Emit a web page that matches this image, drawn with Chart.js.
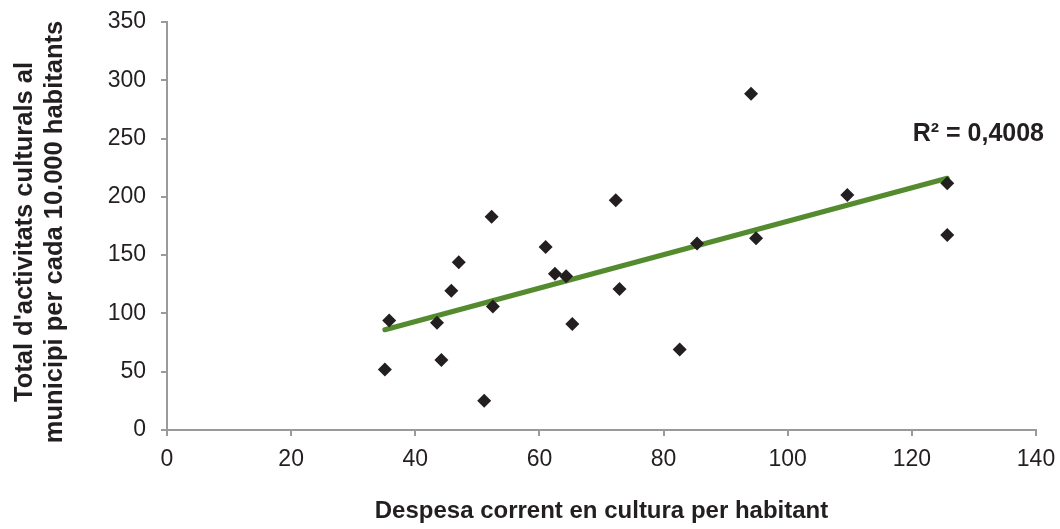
<!DOCTYPE html>
<html><head><meta charset="utf-8">
<script src="https://cdn.jsdelivr.net/npm/chart.js@4/dist/chart.umd.min.js"></script>
<style>html,body{margin:0;padding:0;background:#fff}canvas{display:block}</style>
</head><body>
<canvas id="c" width="1060" height="529"></canvas>
<script>
const spending = [35.1, 35.8, 43.5, 44.2, 45.8, 47.0, 51.1, 52.3, 52.5, 61.0, 62.5, 64.3, 65.3, 72.3, 72.9, 82.6, 85.4, 94.1, 94.9, 109.6, 125.7, 125.7];
const activities = [52, 94, 92, 60, 119.5, 144, 25, 183, 106, 157, 134, 132, 91, 197, 121, 69, 160, 288.5, 164.5, 201.6, 211.6, 167.3];
const xTicks = [0, 20, 40, 60, 80, 100, 120, 140];
const yTicks = [0, 50, 100, 150, 200, 250, 300, 350];
const xTitle = 'Despesa corrent en cultura per habitant';
const yTitle = ["Total d'activitats culturals al", 'municipi per cada 10.000 habitants'];
const r2Label = 'R² = 0,4008';

const points = spending.map((x, i) => ({x, y: activities[i]}));
// least squares trendline from the data
const n = spending.length;
const mx = spending.reduce((a, b) => a + b, 0) / n;
const my = activities.reduce((a, b) => a + b, 0) / n;
let sxy = 0, sxx = 0;
for (let i = 0; i < n; i++) { sxy += (spending[i] - mx) * (activities[i] - my); sxx += (spending[i] - mx) ** 2; }
const slope = sxy / sxx, intercept = my - slope * mx;
const xMin = Math.min(...spending), xMax = Math.max(...spending);
const trend = [{x: xMin, y: intercept + slope * xMin}, {x: xMax, y: intercept + slope * xMax}];

const FONT = "'Liberation Sans', Arial, sans-serif";
const axisColor = '#9a9a9a';
const textColor = '#231f20';

const textPlugin = {
  id: 'texts',
  afterDraw(chart) {
    const {ctx, chartArea} = chart;
    ctx.save();
    ctx.fillStyle = textColor;
    // R² label
    ctx.font = 'bold 25px ' + FONT;
    ctx.textBaseline = 'alphabetic';
    ctx.textAlign = 'right';
    ctx.fillText(r2Label, chartArea.right + 8, 141);
    // Y axis title (two rotated lines)
    ctx.font = 'bold 25.5px ' + FONT;
    ctx.textAlign = 'center';
    yTitle.forEach((line, i) => {
      ctx.save();
      ctx.translate(32 + 30 * i, 232);
      ctx.rotate(-Math.PI / 2);
      ctx.fillText(line, 0, 0);
      ctx.restore();
    });
    ctx.restore();
  }
};

new Chart(document.getElementById('c'), {
  type: 'scatter',
  data: {
    datasets: [
      {
        type: 'line', data: trend, borderColor: '#558b2f', borderWidth: 5,
        pointRadius: 0, fill: false, order: 2, borderCapStyle: 'round'
      },
      {
        data: points, pointStyle: 'rectRot', pointRadius: 7, pointHoverRadius: 7,
        backgroundColor: textColor, borderColor: textColor, borderWidth: 0, order: 1
      }
    ]
  },
  options: {
    responsive: false, animation: false,
    layout: {padding: {left: 0, right: 24, top: 22, bottom: 0}},
    plugins: {legend: {display: false}, tooltip: {enabled: false}},
    scales: {
      x: {
        type: 'linear', min: 0, max: 140,
        afterBuildTicks: s => { s.ticks = xTicks.map(v => ({value: v})); },
        afterFit: s => { s.height = 99; s.paddingLeft = 0; s.paddingRight = 0; },
        border: {color: axisColor, width: 2},
        grid: {display: true, drawOnChartArea: false, drawTicks: true, tickLength: 6, color: axisColor, lineWidth: 2},
        ticks: {color: textColor, font: {family: FONT, size: 23}, padding: 10, maxRotation: 0},
        title: {display: true, text: xTitle, color: textColor, font: {family: FONT, size: 24, weight: 'bold'}, padding: {top: 0, bottom: 3}}
      },
      y: {
        type: 'linear', min: 0, max: 350,
        afterBuildTicks: s => { s.ticks = yTicks.map(v => ({value: v})); },
        afterFit: s => { s.width = 167; s.paddingTop = 0; s.paddingBottom = 0; },
        border: {color: axisColor, width: 2},
        grid: {display: true, drawOnChartArea: false, drawTicks: true, tickLength: 6, color: axisColor, lineWidth: 2},
        ticks: {color: textColor, font: {family: FONT, size: 23}, padding: 15},
        title: {display: false}
      }
    }
  },
  plugins: [textPlugin]
});
</script>
</body></html>
